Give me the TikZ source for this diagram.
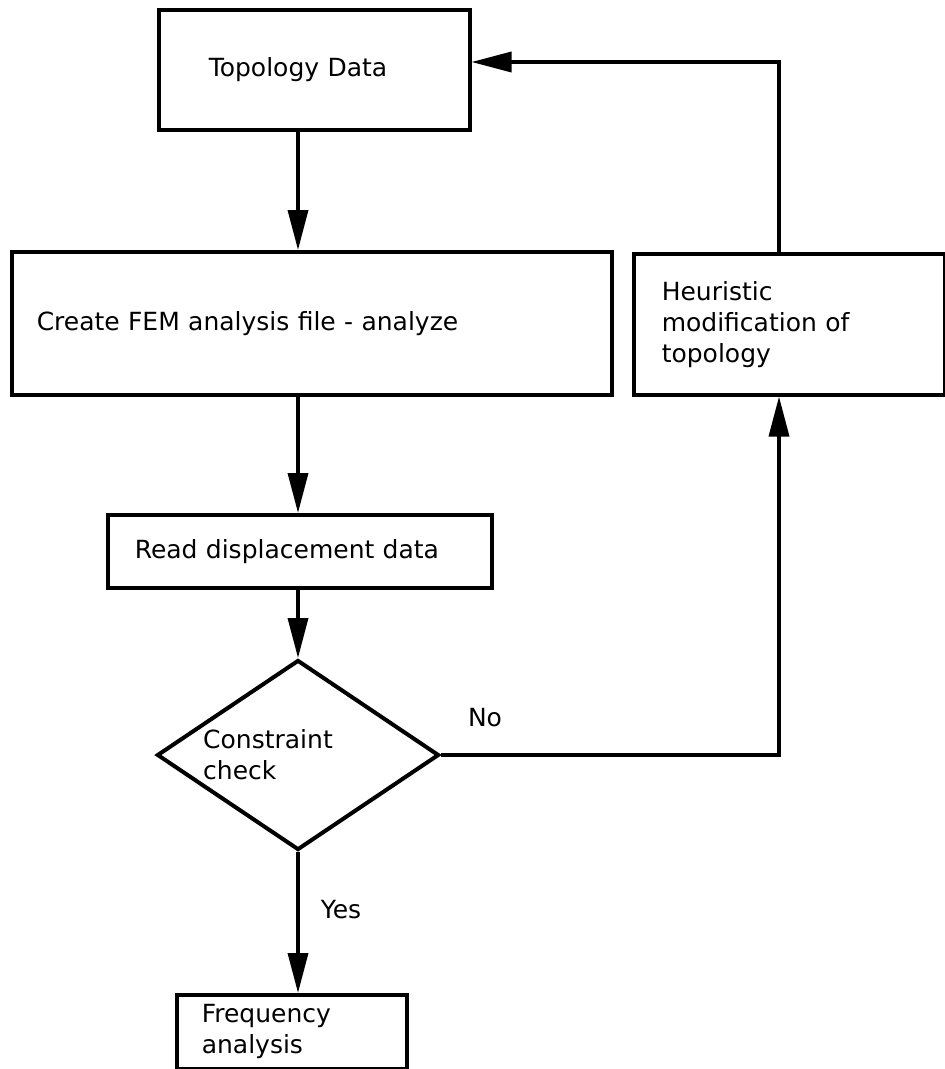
\documentclass[tikz,border=0pt]{standalone}
\usepackage{fontspec}
\setmainfont{DejaVu Sans}
\usetikzlibrary{arrows.meta,shapes.geometric}
\begin{document}
\begin{tikzpicture}[x=1pt,y=-1pt,
  box/.style={draw, line width=3.5pt, anchor=north west, align=left, inner ysep=0pt, font=\fontsize{25}{31}\selectfont},
  conn/.style={line width=3.5pt, -{Triangle[length=40pt,width=20pt]}},
  lbl/.style={font=\fontsize{25}{31}\selectfont, inner sep=0pt}]
\useasboundingbox[fill=white] (0,0) rectangle (945,1069);
\coordinate (axis) at (298,0);
\coordinate (loopx) at (779,0);
\coordinate (loopy) at (0,62);
\node[box, minimum width=311pt, minimum height=120pt, text width=211pt, inner xsep=50pt] (topo) at (157,8) {Topology Data};
\node[box, minimum width=600pt, minimum height=143pt, text width=550pt, inner xsep=25pt] (fem) at (10,250) {Create FEM analysis file - analyze};
\node[box, minimum width=311pt, minimum height=141pt, text width=255pt, inner xsep=28pt] (heur) at (632,252) {Heuristic\\modification of\\topology};
\node[box, minimum width=384pt, minimum height=73pt, text width=330pt, inner xsep=27pt] (read) at (106,513) {Read displacement data};
\node[draw, diamond, aspect=1.47, minimum width=282pt, minimum height=190pt, inner sep=0pt, line width=4pt] (dia) at (298,755) {};
\node[lbl, anchor=west, align=left] (cctext) at (203,755) {Constraint\\check};
\node[box, minimum width=230pt, minimum height=74pt, text width=180pt, inner xsep=25pt] (freq) at (175,993) {Frequency\\analysis};
\node[lbl] (no) at (485,718) {No};
\node[lbl] (yes) at (341,910) {Yes};
\draw[conn] (topo.south -| axis) -- (fem.north -| axis);
\draw[conn] (fem.south -| axis) -- (read.north -| axis);
\draw[conn] (read.south -| axis) -- (dia.north);
\draw[conn] (dia.south) -- (freq.north -| axis);
\draw[conn] (dia.east) -| (heur.south -| loopx);
\draw[conn] (heur.north -| loopx) |- (topo.east |- loopy);
\end{tikzpicture}
\end{document}
